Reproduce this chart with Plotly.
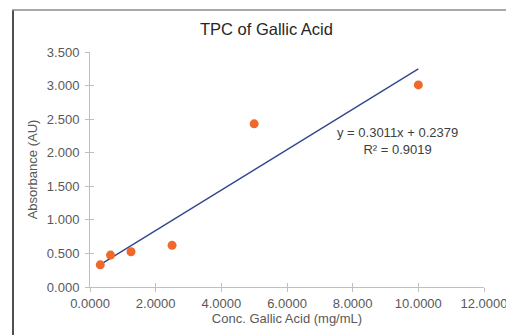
import plotly.graph_objects as go

conc = [0.3125, 0.625, 1.25, 2.5, 5.0, 10.0]
absorbance = [0.33, 0.475, 0.525, 0.62, 2.43, 3.01]
slope = 0.3011
intercept = 0.2379
r2 = 0.9019
x_ticks = [0, 2, 4, 6, 8, 10, 12]
x_labels = ["0.0000", "2.0000", "4.0000", "6.0000", "8.0000", "10.0000", "12.0000"]
y_ticks = [0, 0.5, 1.0, 1.5, 2.0, 2.5, 3.0, 3.5]
y_labels = ["0.000", "0.500", "1.000", "1.500", "2.000", "2.500", "3.000", "3.500"]

W, H = 506, 335
ml, mr, mt, mb = 90, 22, 52, 48
pw, ph = W - ml - mr, H - mt - mb

def px_x(p):
    return (p - ml) / pw

def px_y(p):
    return (H - mb - p) / ph

fit_x = [min(conc), max(conc)]
fit_y = [slope * v + intercept for v in fit_x]

font = "Liberation Sans, Arial, sans-serif"
grey = "#595959"

fig = go.Figure()
fig.add_trace(go.Scatter(x=fit_x, y=fit_y, mode="lines",
                         line=dict(color="#34478C", width=1.4), showlegend=False))
fig.add_trace(go.Scatter(x=conc, y=absorbance, mode="markers",
                         marker=dict(color="#F0682A", size=9), showlegend=False))

axis_common = dict(showgrid=False, zeroline=False, showline=True, linecolor="#BFBFBF",
                   linewidth=1, tickcolor="#BFBFBF", ticklen=4, tickwidth=1,
                   ticklabeloverflow="allow", automargin=False,
                   tickfont=dict(family=font, size=13, color=grey))

fig.update_layout(
    width=W, height=H,
    margin=dict(l=ml, r=mr, t=mt, b=mb),
    paper_bgcolor="white", plot_bgcolor="white",
    font=dict(family=font, color=grey),
    xaxis=dict(range=[0, 12], tickvals=x_ticks, ticktext=x_labels, ticks="outside",
               title=dict(text="Conc. Gallic Acid (mg/mL)", font=dict(size=13, color=grey), standoff=4),
               **axis_common),
    yaxis=dict(range=[0, 3.5], tickvals=y_ticks, ticktext=y_labels, ticks="outside",
               ticklabelstandoff=3,
               title=dict(text="Absorbance (AU)", font=dict(size=13, color=grey), standoff=6),
               **axis_common),
    xaxis2=dict(overlaying="x", range=[0, 12], tickvals=x_ticks, ticks="inside", ticklen=4,
                tickcolor="#BFBFBF", showticklabels=False, showgrid=False, zeroline=False,
                showline=False, side="bottom", anchor="y", automargin=False),
    yaxis2=dict(overlaying="y", range=[0, 3.5], tickvals=y_ticks, ticks="inside", ticklen=4,
                tickcolor="#BFBFBF", showticklabels=False, showgrid=False, zeroline=False,
                showline=False, side="left", anchor="x", automargin=False),
    annotations=[
        dict(text="TPC of Gallic Acid", xref="paper", yref="paper", x=px_x(266), y=px_y(29),
             showarrow=False, font=dict(family=font, size=16.5, color="#262626"),
             xanchor="center", yanchor="middle"),
        dict(text=f"y = {slope:.4f}x + {intercept:.4f}<br>R² = {r2:.4f}",
             xref="paper", yref="paper", x=px_x(397), y=px_y(141),
             showarrow=False, font=dict(family=font, size=13, color="#404040"),
             xanchor="center", yanchor="middle", align="center"),
    ],
    shapes=[
        dict(type="line", xref="paper", yref="paper", x0=px_x(13), x1=px_x(13),
             y0=px_y(10), y1=px_y(340), line=dict(color="#505050", width=2)),
        dict(type="line", xref="paper", yref="paper", x0=px_x(12), x1=px_x(510),
             y0=px_y(10), y1=px_y(10), line=dict(color="#8C8C8C", width=1.5)),
    ],
)
fig.add_trace(go.Scatter(x=[None], y=[None], xaxis="x2", yaxis="y2", showlegend=False))

fig.write_html("out.html", config={"displayModeBar": False},
               post_script="document.body.style.margin='0px';")
